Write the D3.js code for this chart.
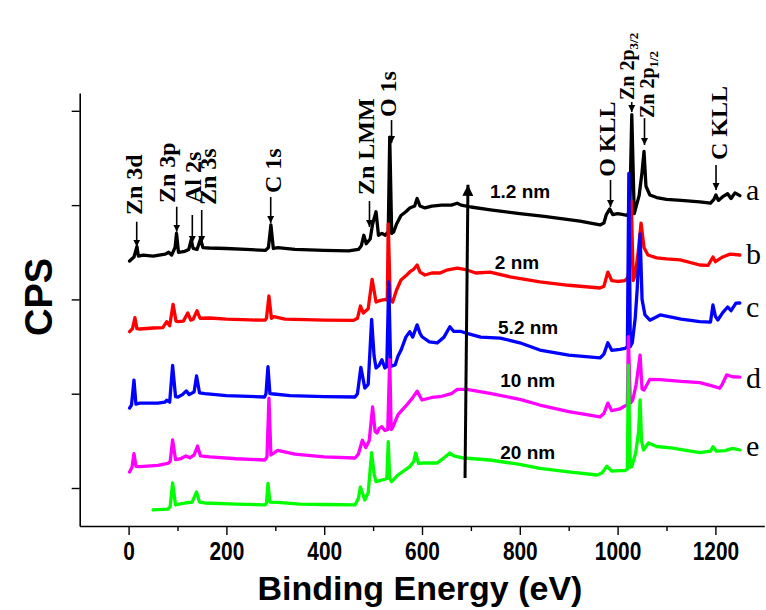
<!DOCTYPE html>
<html><head><meta charset="utf-8">
<script src="https://cdn.jsdelivr.net/npm/d3@7/dist/d3.min.js"></script>
<style>body{margin:0;background:#fff}svg{display:block}</style>
</head><body>
<svg id="chart" width="766" height="610"></svg>
<script>
// ---------- data (binding energy in eV, intensity in 10^3 CPS, offset spectra) ----------
const seriesNames = ["a", "b", "c", "d", "e"];
const thicknessLabels = ["1.2 nm", "2 nm", "5.2 nm", "10 nm", "20 nm"];
const seriesColors = ["#000000", "#ff0000", "#0000ff", "#ff00ff", "#00ff00"];

const seriesA = [[2,34.07],[11,34.5],[17,35.6],[20,34.6],[30,34.7],[50,34.6],[75,34.8],[82,35.0],[88,34.7],[95,35.5],[98,37.0],[102,35.0],[115,35.1],[123,35.3],[128,36.3],[132,35.4],[140,35.3],[147,36.4],[152,35.5],[165,35.45],[200,35.4],[240,35.3],[280,35.2],[286,35.5],[291,37.9],[296,35.4],[305,35.5],[340,35.3],[400,35.2],[450,35.15],[470,35.3],[476,35.7],[481,36.8],[486,35.9],[494,36.4],[499,38.0],[506,39.3],[511,36.8],[518,37.0],[525,36.8],[531,37.2],[534,47.2],[538,37.0],[542,37.15],[548,38.0],[557,38.9],[567,39.3],[575,39.7],[585,39.9],[590,40.7],[596,39.9],[606,39.7],[620,39.9],[640,40.0],[660,40.0],[672,40.2],[680,40.0],[700,39.8],[740,39.5],[800,39.1],[850,38.8],[923,38.3],[964,37.9],[972,38.1],[977,39.0],[984,39.6],[990,39.0],[1000,39.1],[1012,39.0],[1020,38.9],[1025,39.5],[1029,49.6],[1034,39.1],[1044,41.0],[1050,43.5],[1054,45.7],[1058,42.0],[1066,41.07],[1080,40.8],[1100,40.6],[1130,40.5],[1168,40.35],[1190,40.2],[1197,40.6],[1201,41.07],[1206,40.5],[1215,40.9],[1225,41.2],[1232,40.7],[1240,41.3],[1250,41.0]];

const seriesB = [[2,26.58],[8,26.9],[13,28.06],[17,26.9],[23,26.86],[50,26.97],[70,27.0],[78,27.64],[84,27.2],[91,29.48],[97,27.7],[101,27.64],[112,27.7],[121,28.56],[127,27.8],[132,27.9],[140,28.8],[146,28.0],[166,28.03],[200,27.9],[248,27.82],[279,27.8],[282,28.0],[287,30.36],[292,28.0],[297,28.17],[320,27.9],[400,27.8],[460,27.78],[468,28.0],[474,29.3],[480,28.56],[490,29.0],[498,32.13],[506,29.72],[515,29.9],[526,30.0],[529,29.9],[531,38.0],[535,30.0],[540,29.72],[548,31.0],[557,32.06],[567,32.5],[575,32.91],[583,33.2],[590,33.65],[596,32.9],[606,32.59],[620,32.8],[637,32.8],[650,33.1],[672,33.33],[692,33.12],[710,32.8],[739,32.9],[780,32.4],[841,31.85],[900,31.5],[964,31.21],[972,31.4],[980,32.9],[988,32.0],[1000,31.9],[1015,32.0],[1020,32.27],[1024,33.0],[1028,40.4],[1032,32.0],[1036,32.59],[1042,35.0],[1048,38.1],[1054,35.5],[1062,34.71],[1080,34.4],[1100,34.3],[1128,34.2],[1168,33.65],[1185,33.6],[1195,34.5],[1200,34.0],[1215,34.5],[1230,34.8],[1250,34.71]];

const seriesC = [[2,18.48],[6,18.8],[11,21.45],[15,18.9],[23,19.0],[60,19.0],[74,19.1],[78,19.3],[84,19.1],[90,23.0],[96,19.7],[101,19.65],[110,19.9],[118,20.3],[124,19.9],[134,20.2],[139,21.88],[145,20.1],[156,20.0],[200,19.8],[278,19.65],[281,20.0],[285,22.87],[289,20.0],[297,19.97],[330,19.8],[400,19.7],[463,19.65],[468,20.0],[475,22.8],[483,20.6],[490,21.0],[497,27.89],[502,24.0],[506,22.73],[512,23.0],[518,23.6],[524,22.73],[528,22.9],[532,31.85],[536,22.9],[545,23.04],[551,24.0],[557,24.6],[567,26.0],[575,26.58],[581,26.0],[590,27.3],[596,26.4],[600,26.04],[615,25.5],[631,25.38],[645,26.0],[657,27.1],[665,26.6],[680,26.6],[692,26.4],[720,26.0],[760,25.9],[800,25.4],[841,24.63],[900,24.1],[964,23.79],[972,24.2],[980,25.41],[988,24.6],[1005,24.7],[1015,24.8],[1020,25.0],[1023,43.37],[1026,25.0],[1030,25.41],[1036,28.0],[1040,31.0],[1046,36.94],[1050,30.0],[1056,28.35],[1066,27.8],[1087,28.35],[1130,27.9],[1168,27.64],[1190,27.6],[1195,29.41],[1200,28.2],[1205,27.82],[1215,28.6],[1225,29.2],[1232,28.8],[1242,29.6],[1250,29.62]];

const seriesD = [[2,11.7],[7,12.2],[11,13.65],[15,12.3],[23,12.26],[60,12.4],[80,12.6],[85,12.8],[90,15.09],[96,13.0],[105,13.08],[117,13.4],[125,13.2],[134,13.5],[141,14.45],[147,13.4],[166,13.29],[220,13.1],[279,12.97],[283,13.3],[287,19.52],[291,13.5],[305,14.0],[340,13.6],[400,13.3],[463,13.18],[470,13.6],[478,15.06],[485,14.3],[492,15.0],[499,18.6],[504,16.0],[508,15.83],[512,16.3],[518,16.5],[524,16.1],[530,16.2],[534,23.6],[537,16.2],[540,16.4],[551,17.78],[567,18.7],[580,19.5],[590,20.27],[600,19.33],[620,19.6],[637,19.68],[660,20.0],[672,20.46],[692,20.46],[739,20.04],[800,19.4],[841,18.8],[900,18.1],[964,17.53],[972,17.9],[980,19.0],[988,18.2],[1005,18.4],[1015,18.7],[1020,18.8],[1022,26.04],[1026,19.0],[1031,19.33],[1038,21.0],[1046,24.1],[1050,20.5],[1054,20.39],[1066,21.53],[1087,21.5],[1130,21.3],[1168,21.17],[1195,20.8],[1209,20.58],[1214,21.0],[1223,21.99],[1235,21.8],[1250,21.75]];

const seriesE = [[50,7.67],[80,7.75],[85,8.0],[90,10.53],[96,8.2],[115,8.41],[130,8.5],[139,9.58],[145,8.5],[156,8.41],[220,8.3],[279,8.2],[282,8.4],[285,10.5],[289,8.5],[305,8.47],[350,8.3],[400,8.25],[463,8.2],[470,8.9],[474,10.1],[483,8.73],[490,9.5],[497,13.74],[502,11.5],[506,10.67],[518,10.85],[528,11.0],[531,14.91],[534,11.0],[538,10.67],[551,11.38],[575,12.26],[583,12.8],[587,13.71],[593,12.6],[600,12.65],[631,12.65],[645,13.2],[657,13.71],[665,13.4],[685,13.18],[739,12.97],[800,12.5],[841,12.08],[900,11.7],[958,11.38],[968,11.6],[978,12.3],[988,11.8],[1005,11.84],[1015,11.84],[1020,12.0],[1022,23.04],[1026,12.2],[1029,12.26],[1037,13.71],[1043,16.0],[1046,19.33],[1049,15.0],[1053,14.03],[1063,14.77],[1080,14.4],[1113,14.24],[1140,14.0],[1168,13.76],[1190,13.9],[1195,14.38],[1202,13.9],[1220,13.96],[1235,14.2],[1250,14.03]];

const allSeries = [seriesA, seriesB, seriesC, seriesD, seriesE];

// x tick labels
const xTickLabels = [0, 200, 400, 600, 800, 1000, 1200];
const xMinorTicks = [100, 300, 500, 700, 900, 1100];
const yTicks = [10, 20, 30, 40, 50];

// peak assignments: label, subscript, text centre eV, text start (value), arrow eV, arrow tail, arrow tip
const peakText = ["Zn 3d", "Zn 3p", "Al 2s", "Zn 3s", "C 1s", "Zn LMM", "O 1s", "O KLL", "Zn 2p", "Zn 2p", "C KLL"];
const peakSub = ["", "", "", "", "", "", "", "", "3/2", "1/2", ""];
const peakTextE = [11, 78.5, 130.7, 162.4, 294.3, 485.5, 530.5, 978.3, 1018.8, 1060, 1207.4];
const peakTextV = [38.95, 40.22, 40.22, 40.01, 41.28, 41.07, 49.34, 43.0, 51.14, 49.23, 44.78];
const peakArrowE = [16.6, 98.4, 130.3, 149.5, 290.6, 492.6, 537.7, 985.5, 1028.9, 1055, 1201.3];
const peakArrowTail = [38.24, 39.83, 38.95, 39.48, 40.86, 40.43, 49.02, 42.66, 50.93, 49.23, 44.25];
const peakArrowTip = [35.59, 37.18, 35.98, 35.98, 38.10, 37.69, 46.58, 39.80, 49.87, 46.38, 41.60];

// thickness label anchors (eV, value) and right-hand letters
const thickE = [739, 749, 755.5, 760, 760];
const thickV = [40.75, 33.22, 26.33, 20.71, 13.07];
const letterV = [40.54, 33.8, 28.1, 20.6, 13.4];
// trend arrow (eV, value)
const trendFrom = [688, 11.06];
const trendTo = [694, 42.15];

// ---------- drawing ----------
const svg = d3.select("#chart");
const W = 766, H = 610;
svg.append("rect").attr("width", W).attr("height", H).attr("fill", "#fff");

const x = d3.scaleLinear().domain([-100, 1300]).range([79.7, 764.3]);
const y = d3.scaleLinear().domain([5.97, 51.89]).range([526, 93]);

// axes
const gx = svg.append("g").attr("transform", `translate(0,${y.range()[0]})`)
  .call(d3.axisBottom(x).tickValues(xTickLabels).tickSize(9).tickSizeOuter(0).tickPadding(5).tickFormat(d3.format("d")));
gx.select(".domain").attr("stroke-width", 1.6);
gx.selectAll(".tick line").attr("stroke-width", 1.4);
gx.selectAll(".tick text").attr("font-family", "Liberation Sans, Arial, sans-serif")
  .attr("font-weight", "bold").attr("font-size", 22).attr("fill", "#000")
  .attr("transform", "scale(0.95,1.15)");
const gxm = svg.append("g").attr("transform", `translate(0,${y.range()[0]})`)
  .call(d3.axisBottom(x).tickValues(xMinorTicks).tickSize(5).tickFormat(""));
gxm.select(".domain").remove();
gxm.selectAll(".tick line").attr("stroke-width", 1.4);

const gy = svg.append("g").attr("transform", `translate(${x.range()[0]},0)`)
  .call(d3.axisLeft(y).tickValues(yTicks).tickSize(8).tickSizeOuter(0).tickFormat(""));
gy.select(".domain").attr("stroke-width", 1.6);
gy.selectAll(".tick line").attr("stroke-width", 1.4);

// axis titles
svg.append("text").attr("x", 420).attr("y", 600).attr("text-anchor", "middle")
  .attr("font-family", "Liberation Sans, Arial, sans-serif").attr("font-weight", "bold")
  .attr("font-size", 34).text("Binding Energy (eV)");
svg.append("text").attr("transform", "translate(52,297) rotate(-90)").attr("text-anchor", "middle")
  .attr("font-family", "Liberation Sans, Arial, sans-serif").attr("font-weight", "bold")
  .attr("font-size", 38).text("CPS");

// spectra
const line = d3.line().x(d => x(d[0])).y(d => y(d[1]));
svg.append("g").selectAll("path").data(allSeries).join("path")
  .attr("d", line).attr("fill", "none")
  .attr("stroke", (d, i) => seriesColors[i])
  .attr("stroke-width", 3.3).attr("stroke-linejoin", "round").attr("stroke-linecap", "round");

// right-side letters
svg.append("g").selectAll("text").data(seriesNames).join("text")
  .attr("x", 746).attr("y", (d, i) => y(letterV[i]))
  .attr("font-family", "Liberation Serif, Times New Roman, serif").attr("font-size", 30)
  .text(d => d);

// thickness labels
svg.append("g").selectAll("text").data(thicknessLabels).join("text")
  .attr("x", (d, i) => x(thickE[i])).attr("y", (d, i) => y(thickV[i]))
  .attr("font-family", "Liberation Sans, Arial, sans-serif").attr("font-weight", "bold")
  .attr("font-size", 19).text(d => d);

// arrow marker
const defs = svg.append("defs");
defs.append("marker").attr("id", "ah").attr("viewBox", "0 0 10 10").attr("refX", 10).attr("refY", 5)
  .attr("markerUnits", "userSpaceOnUse").attr("markerWidth", 7).attr("markerHeight", 9).attr("orient", "auto")
  .append("path").attr("d", "M0,0 L10,5 L0,10 Z").attr("fill", "#000");
defs.append("marker").attr("id", "bigah").attr("viewBox", "0 0 10 10").attr("refX", 10).attr("refY", 5)
  .attr("markerUnits", "userSpaceOnUse").attr("markerWidth", 20).attr("markerHeight", 11).attr("orient", "auto")
  .append("path").attr("d", "M0,0 L10,5 L0,10 Z").attr("fill", "#000");

// peak labels + arrows
const pg = svg.append("g");
peakText.forEach((t, i) => {
  pg.append("line").attr("x1", x(peakArrowE[i])).attr("x2", x(peakArrowE[i]))
    .attr("y1", y(peakArrowTail[i])).attr("y2", y(peakArrowTip[i]))
    .attr("stroke", "#000").attr("stroke-width", 1.6).attr("marker-end", "url(#ah)");
  const small = peakSub[i] !== "";
  const tx = pg.append("text")
    .attr("transform", `translate(${x(peakTextE[i])},${y(peakTextV[i])}) rotate(-90)`)
    .attr("dy", "0.35em")
    .attr("font-family", "Liberation Serif, Times New Roman, serif").attr("font-weight", "bold")
    .attr("font-size", small ? 20 : 24);
  tx.append("tspan").text(t);
  if (small) tx.append("tspan").attr("dy", "0.3em").attr("font-size", 13).text(peakSub[i]);
});

// trend arrow
svg.append("line").attr("x1", x(trendFrom[0])).attr("y1", y(trendFrom[1]))
  .attr("x2", x(trendTo[0])).attr("y2", y(trendTo[1]))
  .attr("stroke", "#000").attr("stroke-width", 3).attr("marker-end", "url(#bigah)");
</script>
</body></html>
